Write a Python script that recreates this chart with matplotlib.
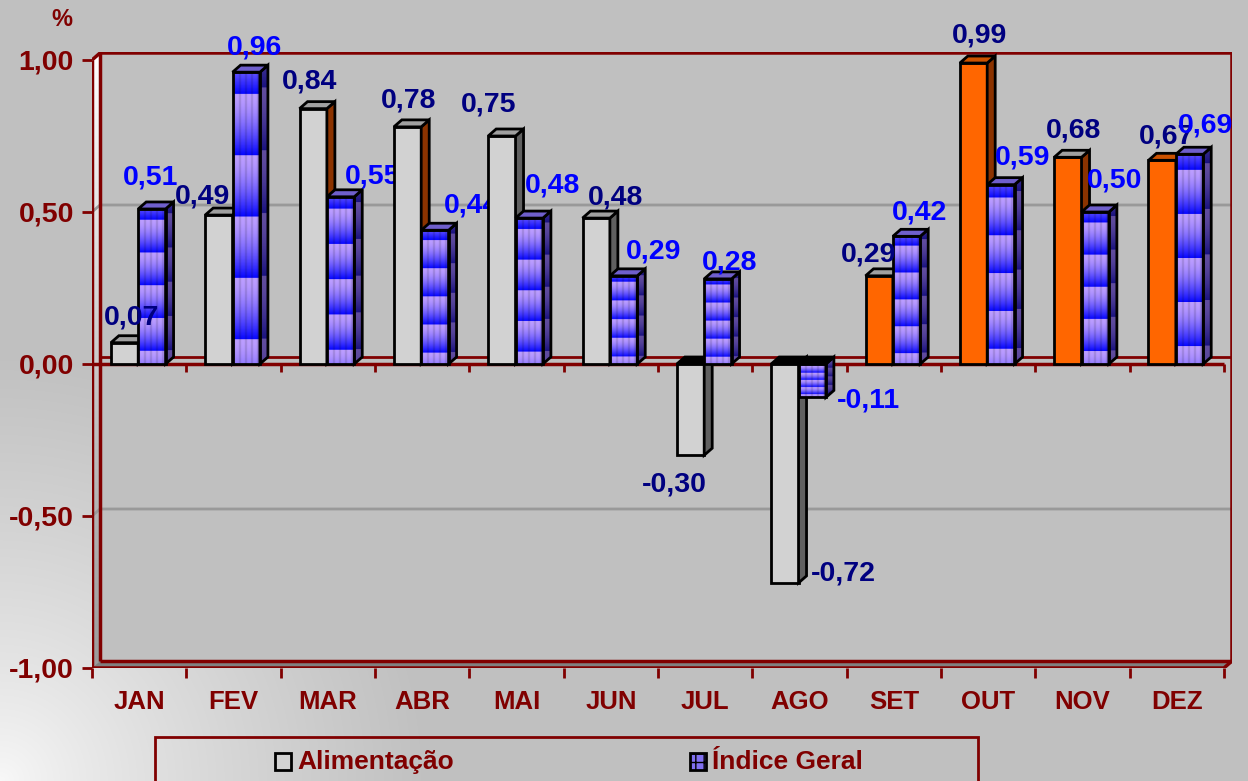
import numpy as np
import matplotlib.pyplot as plt
from matplotlib.patches import Polygon, Rectangle

plt.rcParams['font.family'] = ['Liberation Sans', 'DejaVu Sans']
plt.rcParams['font.weight'] = 'bold'

meses = ['JAN', 'FEV', 'MAR', 'ABR', 'MAI', 'JUN', 'JUL', 'AGO', 'SET', 'OUT', 'NOV', 'DEZ']
alimentacao = [0.07, 0.49, 0.84, 0.78, 0.75, 0.48, -0.30, -0.72, 0.29, 0.99, 0.68, 0.67]
indice_geral = [0.51, 0.96, 0.55, 0.44, 0.48, 0.29, 0.28, -0.11, 0.42, 0.59, 0.50, 0.69]
yticks = [-1.0, -0.5, 0.0, 0.5, 1.0]

VERMELHO = '#800000'
FUNDO = '#C0C0C0'

# cores das faces das barras de Alimentação (o Excel mistura algumas)
alim_frente = ['#D2D2D2'] * 8 + ['#FF6600'] * 4
alim_lado = ['#606060', '#606060', '#8B3300', '#8B3300', '#606060', '#606060',
             '#606060', '#606060', '#606060', '#8B3300', '#8B3300', '#8B3300']
alim_topo = ['#A0A0A0'] * 9 + ['#CC5200', '#A0A0A0', '#CC5200']

# pequenos ajustes (em pixels) da posição dos rótulos, como o Excel os deixou
ajuste_alim = [(7, -1), (-16, -7), (-4, 1), (1, 1), (-13, 6), (19, -5),
               (0, 0), (0, 0), (-11, -5), (6, 2), (6, 1), (4, -2)]
ajuste_ind = [(-17, 6), (-8, -1), (16, -6), (21, -1), (7, 7), (14, -2),
              (-4, -9), (0, 0), (-3, -2), (6, 1), (3, 6), (0, 3)]

W, H = 1248, 781
PX, PY = 1 / 94.33, 1 / 304      # tamanho de um pixel em unidades de dados
DX, DY = 8 * PX, 7 * PY          # profundidade do efeito 3D
LARG = 0.29
FS = 20.5


def texto(v):
    return f'{v:.2f}'.replace('.', ',')


def textura(n, claro, escuro, listras=True):
    t = np.linspace(0, 1, n)[:, None]
    fase = (t * 4.73 + 0.66) % 1
    m = (fase ** 1.6)[:, :, None]
    cor = np.array(claro) * (1 - m) + np.array(escuro) * m
    cor = np.repeat(cor, 14, axis=1)
    if listras:
        mask = (np.arange(14) % 3 == 0)[None, :, None]
        cor = np.where(mask, cor * 0.86, cor)
    return np.clip(cor, 0, 1)


def face_lado(x, v):
    y0, y1 = min(0, v), max(0, v)
    return [(x + LARG, y0), (x + LARG + DX, y0 + DY), (x + LARG + DX, y1 + DY), (x + LARG, y1)]


def face_topo(x, v):
    yt = max(0, v)
    return [(x, yt), (x + DX, yt + DY), (x + LARG + DX, yt + DY), (x + LARG, yt)]


fig = plt.figure(figsize=(W / 100, H / 100), dpi=100)
fig.patch.set_facecolor(FUNDO)

# fundo com o canto inferior esquerdo claro
bg = fig.add_axes([0, 0, 1, 1], zorder=-10)
yy, xx = np.mgrid[0:H, 0:W]
g = np.clip(np.sqrt(xx ** 2 + (H - yy) ** 2) / 430, 0, 1) ** 0.8
tom = 0.975 * (1 - g) + 0.753 * g
bg.imshow(np.dstack([tom] * 3), extent=[0, 1, 0, 1], aspect='auto', origin='upper')
bg.axis('off')

ax = fig.add_axes([92 / W, (H - 668) / H, 1140 / W, 616 / H])
ax.set_facecolor(FUNDO)
for s in ax.spines.values():
    s.set_visible(False)

# parede esquerda (branca) e piso
parede = Polygon([(-0.5, -1), (-0.5 + DX, -1 + DY), (-0.5 + DX, 1 + DY), (-0.5, 1)],
                 closed=True, facecolor='none', edgecolor='none', zorder=1)
ax.add_patch(parede)
grad = np.linspace(1.0, 0.72, 100) ** 1.5
im = ax.imshow(np.dstack([np.repeat(grad[:, None], 4, axis=1)] * 3),
               extent=[-0.5, -0.5 + DX, -1, 1 + DY], aspect='auto', zorder=1)
im.set_clip_path(parede)
ax.add_patch(Polygon([(-0.5, -1), (11.5, -1), (11.5 + DX, -1 + DY), (-0.5 + DX, -1 + DY)],
                     closed=True, facecolor='#808080', edgecolor='none', zorder=1))

# linhas de grade na parede do fundo
for v in [-0.5, 0.5]:
    ax.plot([-0.5, -0.5 + DX, 11.5 + DX], [v, v + DY, v + DY], color='#999999', lw=2, zorder=1.5)

# contornos da caixa
kw = dict(color=VERMELHO, lw=2.5, zorder=2, solid_capstyle='butt')
ax.plot([-0.5, -0.5], [-1, 1], **kw)
ax.plot([-0.5, -0.5 + DX, 11.5 + DX, 11.5 + DX], [1, 1 + DY, 1 + DY, -1 + DY], **kw)
ax.plot([-0.5 + DX, -0.5 + DX], [-1 + DY, 1 + DY], **kw)
ax.plot([-0.5, 11.5, 11.5 + DX], [-1, -1, -1 + DY], **kw)
ax.plot([-0.5 + DX, 11.5 + DX], [-1 + DY, -1 + DY], **kw)
ax.plot([-0.5, 11.5], [0, 0], **kw)
ax.plot([-0.5 + DX, 11.5 + DX], [DY, DY], color=VERMELHO, lw=2, zorder=2)
ax.vlines(np.arange(-0.5, 12), -8 * PY, 0, color=VERMELHO, lw=2, zorder=2)

for i in range(12):
    z = 3 + i
    # Alimentação
    v = alimentacao[i]
    x = i - 0.30
    ax.add_patch(Rectangle((x, min(0, v)), LARG, abs(v), facecolor=alim_frente[i],
                           edgecolor='black', lw=2, zorder=z + 0.1))
    ax.add_patch(Polygon(face_lado(x, v), closed=True, facecolor=alim_lado[i],
                         edgecolor='black', lw=2, zorder=z + 0.1))
    ax.add_patch(Polygon(face_topo(x, v), closed=True,
                         facecolor=alim_topo[i] if v > 0 else 'black',
                         edgecolor='black', lw=2, zorder=z + 0.1))
    ddx, ddy = ajuste_alim[i]
    if v > 0:
        ax.text(x + LARG / 2 + ddx * PX, v + 0.085 + ddy * PY, texto(v), ha='center',
                va='center', color='#000080', fontsize=FS, zorder=z + 0.8)
    elif v > -0.5:
        ax.text(x + LARG / 2 - 0.17, v - 0.095, texto(v), ha='center', va='center',
                color='#000080', fontsize=FS, zorder=z + 0.8)
    else:
        ax.text(x + LARG + DX + 4 * PX, v + 0.03, texto(v), ha='left', va='center',
                color='#000080', fontsize=FS, zorder=z + 0.8)

    # Índice Geral
    v = indice_geral[i]
    x = i - 0.01
    y0, y1 = min(0, v), max(0, v)
    frente = Rectangle((x, y0), LARG, y1 - y0, facecolor='none', edgecolor='black',
                       lw=2, zorder=z + 0.5)
    ax.add_patch(frente)
    img = ax.imshow(textura(200, (0.74, 0.62, 1.0), (0.02, 0.02, 1.0)),
                    extent=[x, x + LARG, y0, y1], aspect='auto', zorder=z + 0.4)
    img.set_clip_path(frente)
    lado = Polygon(face_lado(x, v), closed=True, facecolor='none', edgecolor='black',
                   lw=2, zorder=z + 0.5)
    ax.add_patch(lado)
    img = ax.imshow(textura(200, (0.38, 0.30, 0.62), (0.10, 0.07, 0.50), listras=False),
                    extent=[x + LARG, x + LARG + DX, y0, y1 + DY], aspect='auto', zorder=z + 0.4)
    img.set_clip_path(lado)
    ax.add_patch(Polygon(face_topo(x, v), closed=True, facecolor='#6F5FCC' if v > 0 else 'black',
                         edgecolor='black', lw=2, zorder=z + 0.5))
    ddx, ddy = ajuste_ind[i]
    if v > 0:
        ax.text(x + LARG / 2 + 0.17 + ddx * PX, v + 0.085 + ddy * PY, texto(v), ha='center',
                va='center', color='#0000FF', fontsize=FS, zorder=z + 0.8)
    else:
        ax.text(x + LARG + DX + 3 * PX, v - 0.01, texto(v), ha='left', va='center',
                color='#0000FF', fontsize=FS, zorder=z + 0.8)

ax.set_xlim(-0.5, 11.5 + 1140 / 94.33 - 12)
ax.set_ylim(-1.0, -1.0 + 616 * PY)

ax.set_yticks(yticks, [texto(v) for v in yticks])
ax.tick_params(axis='y', length=7, width=2, color=VERMELHO, labelcolor=VERMELHO,
               labelsize=FS, pad=6)
ax.set_xticks(range(12), meses)
ax.set_xticks(np.arange(-0.5, 12), minor=True)
ax.tick_params(axis='x', which='major', length=0, labelcolor=VERMELHO, labelsize=18.5, pad=16)
ax.tick_params(axis='x', which='minor', length=7, width=2, color=VERMELHO)

fig.text(62 / W, 1 - 20 / H, '%', ha='center', va='center', color=VERMELHO, fontsize=17)

# legenda
fig.add_artist(Rectangle((155 / W, -0.02), 823 / W, (H - 737) / H + 0.02,
                         transform=fig.transFigure, facecolor='none',
                         edgecolor=VERMELHO, lw=2))
fig.add_artist(Rectangle((275 / W, 1 - 770 / H), 16 / W, 17 / H, transform=fig.transFigure,
                         facecolor='#D2D2D2', edgecolor='black', lw=2))
fig.text(297 / W, 1 - 762 / H, 'Alimentação', ha='left', va='center',
         color=VERMELHO, fontsize=19)
fig.add_artist(Rectangle((690 / W, 1 - 770 / H), 16 / W, 17 / H, transform=fig.transFigure,
                         facecolor='#8070F0', edgecolor='black', lw=2, hatch='++'))
fig.text(712 / W, 1 - 762 / H, 'Índice Geral', ha='left', va='center',
         color=VERMELHO, fontsize=19)

fig.savefig('out.png', dpi=100, facecolor=fig.get_facecolor())
